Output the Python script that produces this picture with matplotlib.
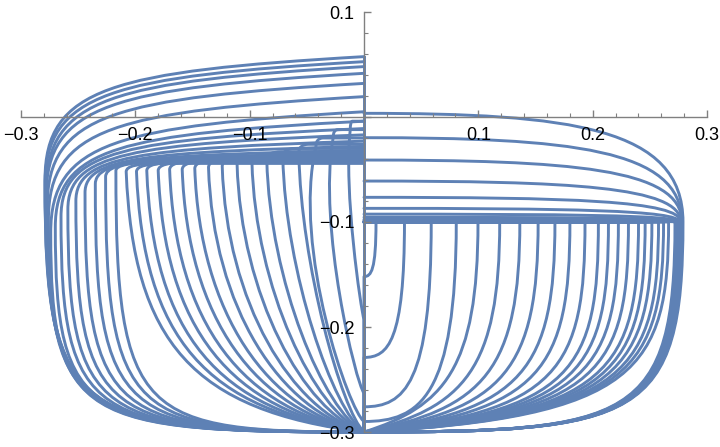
import matplotlib
matplotlib.use('Agg')
import matplotlib.pyplot as plt
from matplotlib.path import Path
from matplotlib.patches import PathPatch
from matplotlib.ticker import MultipleLocator, FuncFormatter

# right side: loops starting on the y axis and turning down at x ~ 0.28
r_loop_y0 = [0.0035, -0.0197, -0.041, -0.061, -0.0765, -0.087, -0.0925, -0.0955, -0.0975, -0.0985]
r_loop_x = [0.279, 0.278, 0.278, 0.277, 0.277, 0.276, 0.275, 0.274, 0.273, 0.272]

# right side: curves running along y = -0.1 and dropping at x
r_drop_x = [0.0105, 0.0354, 0.0588, 0.0807, 0.0997, 0.1187, 0.1363, 0.1523, 0.1670, 0.1801, 0.1933,
            0.2050, 0.2138, 0.2225, 0.2313, 0.2401, 0.2459, 0.2518, 0.2576, 0.2620, 0.2664]
r_drop_end = [-0.152, -0.229, -0.276, -0.290] + [-0.3] * 17

# left side: loops starting on the y axis, turning at x ~ -0.28
l_loop_y0 = [0.0575, 0.0527, 0.048, 0.0416, 0.032, 0.0194, 0.005, -0.004, -0.011, -0.017,
             -0.023, -0.028, -0.032, -0.035, -0.038]
l_loop_x = [-0.279, -0.279, -0.278, -0.278, -0.277, -0.276, -0.274, -0.270, -0.265, -0.259,
            -0.252, -0.244, -0.235, -0.226, -0.217]
l_loop_turn = [-0.06, -0.065, -0.07, -0.076, -0.085, -0.098, -0.11, -0.105, -0.095, -0.088,
               -0.08, -0.072, -0.064, -0.057, -0.051]

# left side: inner curves dropping from the band near y = -0.04
l_drop_x = [-0.208, -0.199, -0.190, -0.180, -0.170, -0.159, -0.148, -0.136, -0.124, -0.111,
            -0.098, -0.085, -0.071, -0.057, -0.042, -0.027, -0.012]
l_drop_y0 = [-0.044, -0.044, -0.043, -0.043, -0.042, -0.042, -0.041, -0.040, -0.039, -0.037,
             -0.035, -0.033, -0.030, -0.026, -0.020, -0.012, -0.004]
l_drop_end = [-0.3] * 14 + [-0.29, -0.263, -0.193]

axis_line = [0.0575, -0.3]   # blue segment on the y axis
y_bottom = -0.3
band_y = -0.1

BLUE = '#5E81B5'
M, L, C3, C4 = Path.MOVETO, Path.LINETO, Path.CURVE3, Path.CURVE4

plt.rcParams['font.family'] = ['Liberation Sans', 'DejaVu Sans']

fig = plt.figure(figsize=(7.2, 4.47), dpi=100)
ax = fig.add_axes([21 / 720, 15 / 447, 686 / 720, 420 / 447])


def add(verts, codes):
    ax.add_patch(PathPatch(Path(verts, codes), fc='none', ec=BLUE, lw=2.1,
                           capstyle='round', joinstyle='round', clip_on=False, zorder=2))


# right loops
for y0, xr in zip(r_loop_y0, r_loop_x):
    d = 0.13 * (y0 - band_y)
    verts = [(0, y0), (0.65 * xr, y0), (xr, y0 - d), (xr, band_y),
             (xr, -0.29), (0.86 * xr, y_bottom), (0, y_bottom)]
    add(verts, [M, C4, C4, C4, C4, C4, C4])

# right drops
for xk, ye in zip(r_drop_x, r_drop_end):
    if ye > -0.295:
        a, b, e = 0.88, 0.6, 0.0
    else:
        a, b, e = 0.7, min(0.9, 0.5 + 2 * xk), 0.03 - 0.06 * xk
    verts = [(0, band_y), (xk, band_y), (xk, band_y + a * (ye - band_y)),
             (b * xk, ye + e), (0, ye), (0, y_bottom)]
    add(verts, [M, L, C4, C4, C4, L])

# left loops
for y0, xc, yv in zip(l_loop_y0, l_loop_x, l_loop_turn):
    dy = y0 - yv
    verts = [(0, y0), (0.79 * xc, y0 - 0.12 * dy), (xc, y0 - 0.25 * dy), (xc, yv),
             (xc, yv + 0.95 * (y_bottom - yv)), (0.9 * xc, y_bottom), (0, y_bottom)]
    add(verts, [M, C4, C4, C4, C4, C4, C4])

# left drops
for xk, y0, ye in zip(l_drop_x, l_drop_y0, l_drop_end):
    yk = y0 - 0.008
    w = abs(xk)
    a, b = 0.3 + 1.7 * w, 0.2 + 2.5 * w
    if ye > -0.295:
        p, e = 1.5, 0.01
    else:
        p, e = 0.97, 0.02
    verts = [(0, y0), (0.85 * xk, y0), (xk, y0), (xk, yk),
             (p * xk, yk + a * (ye - yk)), (b * xk, ye + e), (0, ye), (0, y_bottom)]
    add(verts, [M, L, C3, C3, C4, C4, C4, L])

ax.plot([0, 0], axis_line, color=BLUE, lw=2.1, clip_on=False, zorder=2)

# Mathematica style axes through the origin
ax.set_xlim(-0.3, 0.3)
ax.set_ylim(-0.3, 0.1)
ax.set_axisbelow(False)
for s in ['top', 'right']:
    ax.spines[s].set_visible(False)
ax.spines['left'].set_position(('data', 0))
ax.spines['bottom'].set_position(('data', 0))
for s in ['left', 'bottom']:
    ax.spines[s].set_color('#808080')
    ax.spines[s].set_linewidth(1.0)
    ax.spines[s].set_zorder(3)

ax.xaxis.set_major_locator(MultipleLocator(0.1))
ax.xaxis.set_minor_locator(MultipleLocator(0.02))
ax.yaxis.set_major_locator(MultipleLocator(0.1))
ax.yaxis.set_minor_locator(MultipleLocator(0.02))

fmt = FuncFormatter(lambda v, p: '' if abs(v) < 1e-9 else f'{v:.1f}'.replace('-', '\u2212'))
ax.xaxis.set_major_formatter(fmt)
ax.yaxis.set_major_formatter(fmt)
ax.tick_params(which='both', direction='in', color='#808080', labelsize=13, labelcolor='black')
ax.tick_params(which='major', length=5, width=1.0, pad=7)
ax.tick_params(which='minor', length=3, width=0.8)
ax.set_facecolor('none')

fig.savefig('out.png', dpi=100)
